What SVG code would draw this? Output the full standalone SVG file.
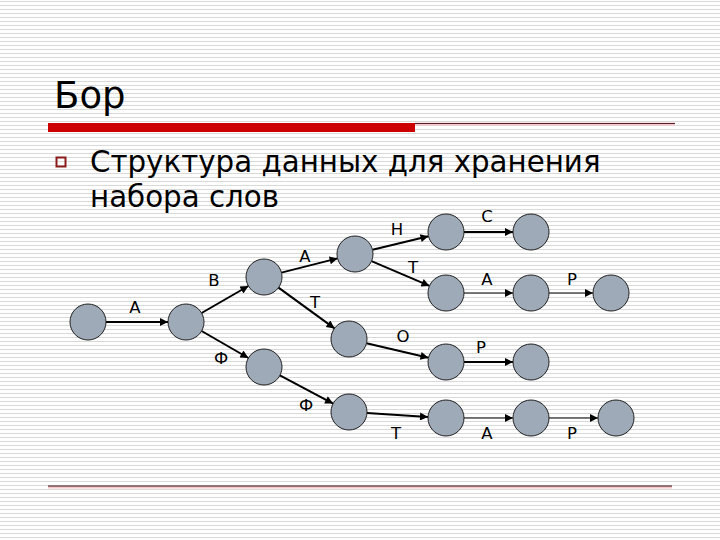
<svg xmlns="http://www.w3.org/2000/svg" width="720" height="540" viewBox="0 0 720 540">
<defs>
<pattern id="stripes" x="0" y="0" width="8" height="4" patternUnits="userSpaceOnUse">
<rect x="0" y="1" width="8" height="1" fill="#d9d9d9"/>
</pattern>
<marker id="arr" viewBox="0 0 10 10" refX="10" refY="5" markerWidth="9" markerHeight="8" markerUnits="userSpaceOnUse" orient="auto">
<path d="M0,0 L10,5 L0,10 z" fill="#000"/>
</marker>
</defs>
<style>
.node{fill:#9eaab8;stroke:#222;stroke-width:1}
.e{stroke:#000;fill:none;marker-end:url(#arr)}
.thick{stroke-width:2}
.thin{stroke-width:1.2}
.lbl{font-family:"DejaVu Sans","Liberation Sans",sans-serif;font-size:16.5px;fill:#000;text-anchor:middle}
.t{font-family:"DejaVu Sans","Liberation Sans",sans-serif;fill:#000}
</style>
<rect width="720" height="540" fill="#ffffff"/>
<rect width="720" height="540" fill="url(#stripes)"/>
<g id="header">
<text class="t" x="54" y="108" font-size="37">Бор</text>
<rect x="48" y="123" width="367" height="9" fill="#cc0000"/>
<line x1="415" y1="124" x2="675" y2="124" stroke="#f4c8cc" stroke-width="3"/>
<line x1="415" y1="123.5" x2="675" y2="123.5" stroke="#5a1e2a" stroke-width="1.2"/>
<rect x="56.5" y="157.5" width="9" height="9" fill="none" stroke="#8b1a1a" stroke-width="2"/>
<text class="t" x="90" y="172" font-size="29.3">Структура данных для хранения</text>
<text class="t" x="90" y="207" font-size="29.3">набора слов</text>
<line x1="48" y1="487" x2="672" y2="487" stroke="#f4c8cc" stroke-width="3"/>
<line x1="48" y1="486" x2="672" y2="486" stroke="#3a1a1a" stroke-width="1.2"/>
</g>
<g id="connectors">
<line class="e thick" x1="106" y1="322" x2="168" y2="322"/>
<line class="e thick" x1="201.6" y1="313" x2="248.4" y2="286"/>
<line class="e thick" x1="201.6" y1="331" x2="248.4" y2="358"/>
<line class="e thick" x1="281.4" y1="272.6" x2="337.6" y2="258.4"/>
<line class="e thick" x1="278.5" y1="287.6" x2="334.5" y2="328.4"/>
<line class="e thick" x1="372.5" y1="249.8" x2="428.5" y2="236.2"/>
<line class="e thick" x1="371.5" y1="261.1" x2="429.5" y2="285.9"/>
<line class="e thick" x1="464" y1="232" x2="513" y2="232"/>
<line class="e thin" x1="464" y1="293" x2="513" y2="293"/>
<line class="e thin" x1="549" y1="293" x2="593" y2="293"/>
<line class="e thick" x1="366.5" y1="343.2" x2="428.5" y2="357.8"/>
<line class="e thick" x1="464" y1="362" x2="513" y2="362"/>
<line class="e thick" x1="279.9" y1="375.4" x2="333.1" y2="403.6"/>
<line class="e thick" x1="367" y1="413.1" x2="428" y2="416.9"/>
<line class="e thin" x1="464" y1="418" x2="513" y2="418"/>
<line class="e thin" x1="549" y1="418" x2="598" y2="418"/>
<text class="lbl" x="135" y="313">А</text>
<text class="lbl" x="214" y="286">В</text>
<text class="lbl" x="221" y="364">Ф</text>
<text class="lbl" x="305" y="262">А</text>
<text class="lbl" x="315" y="308">Т</text>
<text class="lbl" x="397" y="235">Н</text>
<text class="lbl" x="413" y="273">Т</text>
<text class="lbl" x="487" y="222">С</text>
<text class="lbl" x="487" y="285">А</text>
<text class="lbl" x="572" y="285">Р</text>
<text class="lbl" x="403" y="342">О</text>
<text class="lbl" x="481" y="353">Р</text>
<text class="lbl" x="306" y="411">Ф</text>
<text class="lbl" x="396" y="439">Т</text>
<text class="lbl" x="487" y="439">А</text>
<text class="lbl" x="572" y="439">Р</text>
</g>
<g id="n0"><circle class="node" cx="88" cy="322" r="18"/></g>
<g id="n1"><circle class="node" cx="186" cy="322" r="18"/></g>
<g id="n2"><circle class="node" cx="264" cy="277" r="18"/></g>
<g id="n3"><circle class="node" cx="355" cy="254" r="18"/></g>
<g id="n5"><circle class="node" cx="349" cy="339" r="18"/></g>
<g id="f1"><circle class="node" cx="264" cy="367" r="18"/></g>
<g id="f2"><circle class="node" cx="349" cy="412" r="18"/></g>
<g id="nh"><circle class="node" cx="446" cy="232" r="18"/></g>
<g id="nc"><circle class="node" cx="531" cy="232" r="18"/></g>
<g id="nt1"><circle class="node" cx="446" cy="293" r="18"/></g>
<g id="na1"><circle class="node" cx="531" cy="293" r="18"/></g>
<g id="np1"><circle class="node" cx="611" cy="293" r="18"/></g>
<g id="no"><circle class="node" cx="446" cy="362" r="18"/></g>
<g id="np2"><circle class="node" cx="531" cy="362" r="18"/></g>
<g id="nt2"><circle class="node" cx="446" cy="418" r="18"/></g>
<g id="na2"><circle class="node" cx="531" cy="418" r="18"/></g>
<g id="np3"><circle class="node" cx="616" cy="418" r="18"/></g>
</svg>
